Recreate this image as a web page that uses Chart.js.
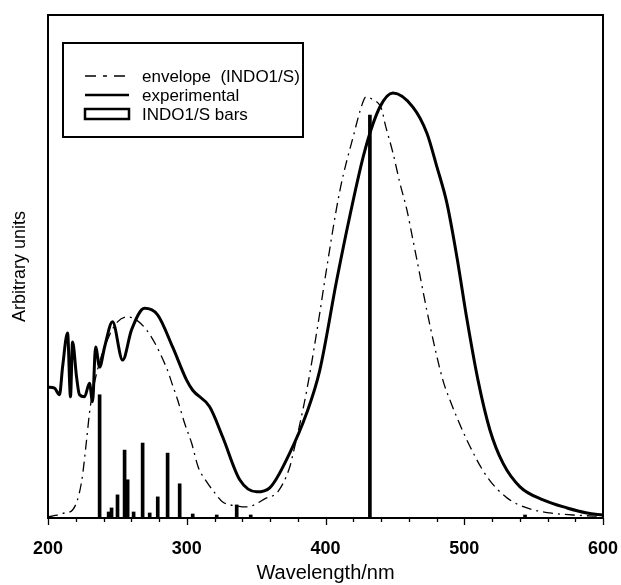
<!DOCTYPE html>
<html>
<head>
<meta charset="utf-8">
<script src="https://cdn.jsdelivr.net/npm/chart.js@4/dist/chart.umd.min.js"></script>
<style>
  html, body { margin: 0; padding: 0; background: #fff; }
  canvas { display: block; }
</style>
</head>
<body>
<canvas id="c" width="621" height="585"></canvas>
<script>
// ---- data ----
const expWavelength = [200, 204.7, 208.3, 210.5, 214.1, 216.2, 217.7, 220.6, 222.7, 226.3, 229.9, 232.1, 234.3, 237.2, 240.8, 246.5, 253.8, 260.2, 269.6, 279.0, 289.8, 299.9, 304.3, 316.5, 325.9, 338.2, 350.4, 359.8, 374.2, 386.5, 395.9, 408.1, 417.5, 428.3, 439.2, 448.6, 463.0, 473.1, 480.3, 487.5, 494.7, 502.0, 509.9, 518.5, 527.9, 540.2, 556.8, 574.1, 588.5, 600];
const expValue      = [26.0, 25.8, 24.5, 30.0, 36.8, 24.1, 35.0, 28.0, 24.5, 24.1, 26.8, 23.1, 34.0, 30.0, 34.0, 39.0, 31.4, 37.4, 41.7, 40.4, 34.0, 27.4, 25.4, 22.1, 16.1, 7.6, 5.2, 6.0, 12.9, 20.9, 29.4, 47.3, 60.0, 73.0, 81.7, 84.5, 81.7, 76.5, 69.8, 62.6, 51.9, 39.4, 27.4, 17.5, 10.9, 6.2, 3.6, 2.0, 1.0, 0.6];

const envWavelength = [200, 205, 212, 217.7, 224.2, 227.8, 229.9, 232.1, 237.2, 244.4, 250.1, 257.0, 271.0, 285.5, 289.8, 293.4, 298.4, 303.5, 308.3, 314.4, 320.2, 325.9, 336.0, 343.2, 357.6, 365.6, 374.2, 376.4, 386.5, 395.9, 399.5, 410.3, 421.1, 425.0, 429.1, 433.4, 440.7, 442.8, 448.6, 453.6, 458.7, 463.0, 465.9, 475.2, 484.6, 489.6, 501.9, 516.4, 530.8, 545.2, 561.8, 578.4, 600];
const envValue      = [0.2, 0.5, 1.0, 1.6, 7.2, 15.5, 20.9, 24.9, 31.0, 36.4, 39.0, 40.0, 37.4, 29.8, 26.4, 23.5, 18.9, 14.9, 10.1, 7.2, 5.0, 3.2, 2.4, 2.2, 4.0, 5.2, 10.1, 12.5, 25.4, 40.8, 47.3, 65.0, 77.0, 81.0, 83.7, 83.3, 81.1, 78.5, 72.6, 66.6, 61.2, 55.3, 51.3, 38.4, 27.4, 23.5, 15.5, 8.2, 4.0, 2.0, 1.0, 0.6, 0.3];

const barWavelength = [237.2, 243.7, 245.8, 250.1, 255.2, 257.4, 261.7, 268.2, 273.3, 279.1, 286.2, 294.9, 304.3, 321.6, 336.0, 346.1, 432.0, 543.8];
const barValue      = [24.5, 1.2, 2.0, 4.6, 13.5, 7.6, 1.2, 14.9, 1.0, 4.2, 12.9, 6.8, 0.8, 0.6, 2.6, 0.6, 80.1, 0.6];

const xTickLabels = [200, 300, 400, 500, 600];
const legendLabels = ['envelope  (INDO1/S)', 'experimental', 'INDO1/S bars'];
const xTitle = 'Wavelength/nm';
const yTitle = 'Arbitrary units';

const FONT = "'Liberation Sans', Arial, Helvetica, sans-serif";
const toXY = (xs, ys) => xs.map((x, i) => ({ x: x, y: ys[i] }));

const framePlugin = {
  id: 'frame',
  afterDraw(chart) {
    const { ctx, chartArea: a, scales } = chart;
    ctx.save();
    // frame
    ctx.strokeStyle = '#000';
    ctx.lineWidth = 2;
    ctx.strokeRect(a.left, a.top, a.right - a.left, a.bottom - a.top);
    // bottom ticks (major every 100, minor every 20), pointing outward
    const xs = scales.x;
    ctx.lineWidth = 1.3;
    for (let v = xs.min; v <= xs.max + 0.001; v += 20) {
      const px = Math.round(xs.getPixelForValue(v)) + 0.5;
      const major = xTickLabels.includes(v);
      ctx.beginPath();
      ctx.moveTo(px, a.bottom);
      ctx.lineTo(px, a.bottom + (major ? 7 : 4));
      ctx.stroke();
    }
    // legend
    const L = { x: 63, y: 43, w: 240, h: 94 };
    ctx.lineWidth = 2;
    ctx.strokeRect(L.x, L.y, L.w, L.h);
    const rows = [76, 95, 114];
    const sx0 = 85, sx1 = 129;
    ctx.font = '17px ' + FONT;
    ctx.fillStyle = '#000';
    ctx.textBaseline = 'middle';
    ctx.textAlign = 'left';
    // dash-dot sample
    ctx.lineWidth = 1.3;
    ctx.setLineDash([11, 7, 4, 7]);
    ctx.beginPath(); ctx.moveTo(sx0, rows[0]); ctx.lineTo(sx0 + 40, rows[0]); ctx.stroke();
    ctx.setLineDash([]);
    // solid sample
    ctx.lineWidth = 2.5;
    ctx.beginPath(); ctx.moveTo(sx0, rows[1]); ctx.lineTo(sx1, rows[1]); ctx.stroke();
    // bar sample
    ctx.lineWidth = 2.5;
    ctx.strokeRect(sx0, rows[2] - 5, sx1 - sx0, 10);
    legendLabels.forEach((t, i) => ctx.fillText(t, 142, rows[i] + 1));
    ctx.restore();
  }
};

new Chart(document.getElementById('c'), {
  type: 'line',
  data: {
    datasets: [
      {
        type: 'bar',
        label: legendLabels[2],
        data: toXY(barWavelength, barValue),
        backgroundColor: '#000',
        borderWidth: 0,
        barThickness: 3,
        order: 3
      },
      {
        label: legendLabels[0],
        data: toXY(envWavelength, envValue),
        borderColor: '#000',
        borderWidth: 1.3,
        borderDash: [10, 5, 2, 5],
        pointRadius: 0,
        fill: false,
        cubicInterpolationMode: 'monotone',
        order: 2
      },
      {
        label: legendLabels[1],
        data: toXY(expWavelength, expValue),
        borderColor: '#000',
        borderWidth: 3,
        pointRadius: 0,
        fill: false,
        cubicInterpolationMode: 'monotone',
        order: 1
      }
    ]
  },
  options: {
    responsive: false,
    animation: false,
    devicePixelRatio: 1,
    layout: { padding: { top: 15, right: 18, left: 0, bottom: 0 } },
    plugins: { legend: { display: false }, tooltip: { enabled: false } },
    scales: {
      x: {
        type: 'linear',
        min: 200, max: 600,
        offset: false,
        grid: { display: false, drawTicks: false },
        border: { display: false },
        ticks: {
          stepSize: 100,
          padding: 20,
          color: '#000',
          font: { family: FONT, size: 18, weight: 'bold' },
          maxRotation: 0,
          callback: v => xTickLabels.includes(v) ? String(v) : ''
        },
        title: { display: true, text: xTitle, color: '#000', font: { family: FONT, size: 20 }, padding: { top: 0, bottom: 0 } },
        afterFit: s => { s.height = 67; s.paddingLeft = 0; s.paddingRight = 0; }
      },
      y: {
        min: 0, max: 100,
        grid: { display: false, drawTicks: false },
        border: { display: false },
        ticks: { display: false },
        title: { display: true, text: yTitle, color: '#000', font: { family: FONT, size: 18 }, padding: { top: 9, bottom: 0 } },
        afterFit: s => { s.width = 48; s.paddingTop = 0; s.paddingBottom = 0; }
      }
    }
  },
  plugins: [framePlugin]
});
</script>
</body>
</html>
